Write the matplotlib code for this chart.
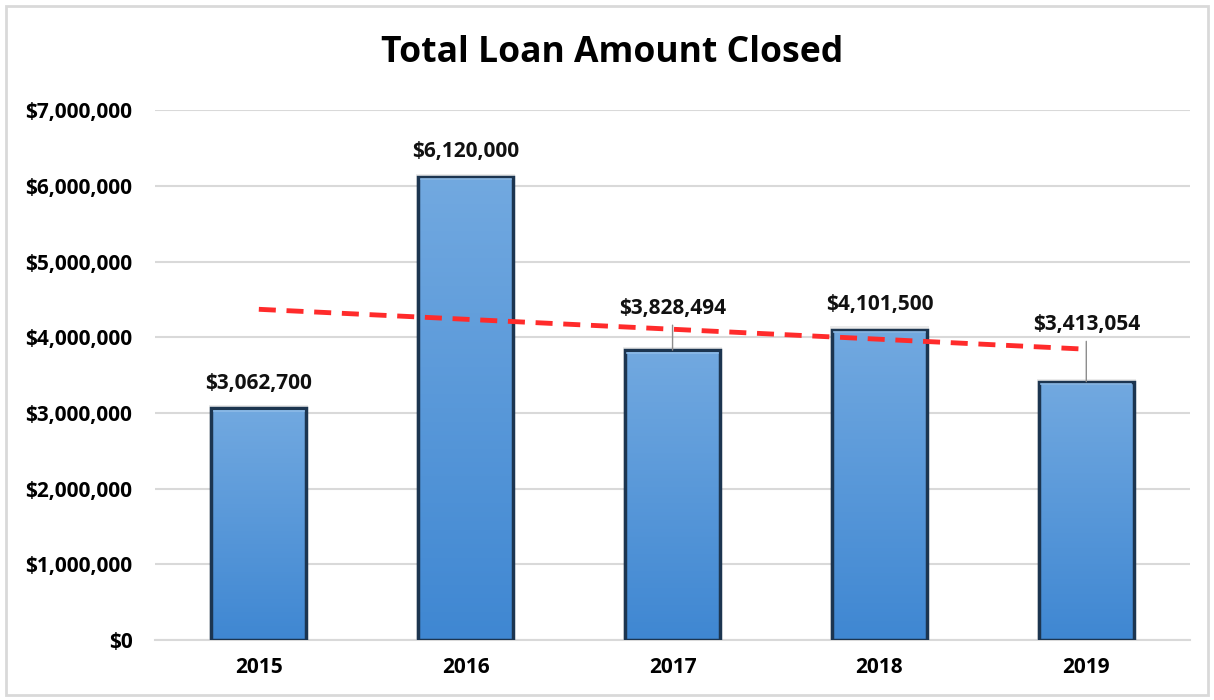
import numpy as np
import matplotlib
matplotlib.use("Agg")
from matplotlib import pyplot as plt
from matplotlib.patches import Rectangle
from matplotlib.ticker import FuncFormatter

# data
years = ["2015", "2016", "2017", "2018", "2019"]
amounts = [3062700, 6120000, 3828494, 4101500, 3413054]
labels = ["$3,062,700", "$6,120,000", "$3,828,494", "$4,101,500", "$3,413,054"]
yticks = [0, 1000000, 2000000, 3000000, 4000000, 5000000, 6000000, 7000000]

# label centre offset above bar (points) and leader line flag
label_off = [18, 18, 30, 18, 41]
leader = [False, False, True, False, True]

plt.rcParams['font.family'] = ['Open Sans', 'DejaVu Sans']

fig = plt.figure(figsize=(12.14, 7), dpi=100)
ax = fig.add_axes([0.128, 0.0857, 0.852, 0.757])

x = np.arange(len(years))
w = 0.46
grad = np.linspace(0, 1, 256).reshape(-1, 1)
cmap = matplotlib.colors.LinearSegmentedColormap.from_list("b", ["#3f87d2", "#72a9e0"])

for i, v in enumerate(amounts):
    # soft shadow
    ax.add_patch(Rectangle((i - w/2 - 0.01, 0), w + 0.02, v + 40000, facecolor="#000000",
                           alpha=0.08, edgecolor="none", zorder=2))
    im = ax.imshow(grad, cmap=cmap, aspect="auto", origin="lower",
                   extent=(i - w/2, i + w/2, 0, v), zorder=3)
    r = Rectangle((i - w/2, 0), w, v, facecolor="none", edgecolor="#1c3550", linewidth=2.5, zorder=4)
    ax.add_patch(r)
    im.set_clip_path(r)
    # bevel highlight along the top
    ax.plot([i - w/2 + 0.012, i + w/2 - 0.012], [v - 35000, v - 35000], color="#8dbbe8", lw=1.2, zorder=5)

    ax.annotate(labels[i], xy=(i, v), xytext=(0, label_off[i]), textcoords="offset points",
                ha="center", va="center", fontsize=15, fontweight="bold", color="#111111", zorder=7)
    if leader[i]:
        ax.annotate("", xy=(i, v), xytext=(0, label_off[i] - 12), textcoords="offset points",
                    arrowprops=dict(arrowstyle="-", color="#8c8c8c", lw=1.0,
                                    shrinkA=0, shrinkB=0), zorder=6)

# linear trend line
k, b = np.polyfit(x, amounts, 1)
ax.plot(x, k * x + b, color="#ff2b2b", lw=3.5, dashes=(3.5, 2.2), zorder=6)

ax.set_xlim(-0.5, 4.5)
ax.set_ylim(0, 7000000)
ax.set_yticks(yticks)
ax.yaxis.set_major_formatter(FuncFormatter(lambda v, p: "${:,.0f}".format(v)))
ax.set_xticks(x)
ax.set_xticklabels(years)
ax.grid(axis="y", color="#d9d9d9", lw=1.5, zorder=0)
ax.set_axisbelow(True)
for s in ["top", "right", "left"]:
    ax.spines[s].set_visible(False)
ax.spines["bottom"].set_color("#d9d9d9")
ax.spines["bottom"].set_linewidth(1.5)
ax.tick_params(length=0, labelsize=15, pad=12)
for t in ax.get_xticklabels() + ax.get_yticklabels():
    t.set_fontweight("bold")
ax.tick_params(axis="y", pad=16.5)

fig.text(0.504, 0.925, "Total Loan Amount Closed", ha="center", va="center",
         fontsize=25.6, fontweight="bold", color="#000000")

fig.add_artist(Rectangle((0.005, 0.007), 0.99, 0.985, transform=fig.transFigure,
                         facecolor="none", edgecolor="#d9d9d9", lw=2))

fig.savefig("out.png", dpi=100)
